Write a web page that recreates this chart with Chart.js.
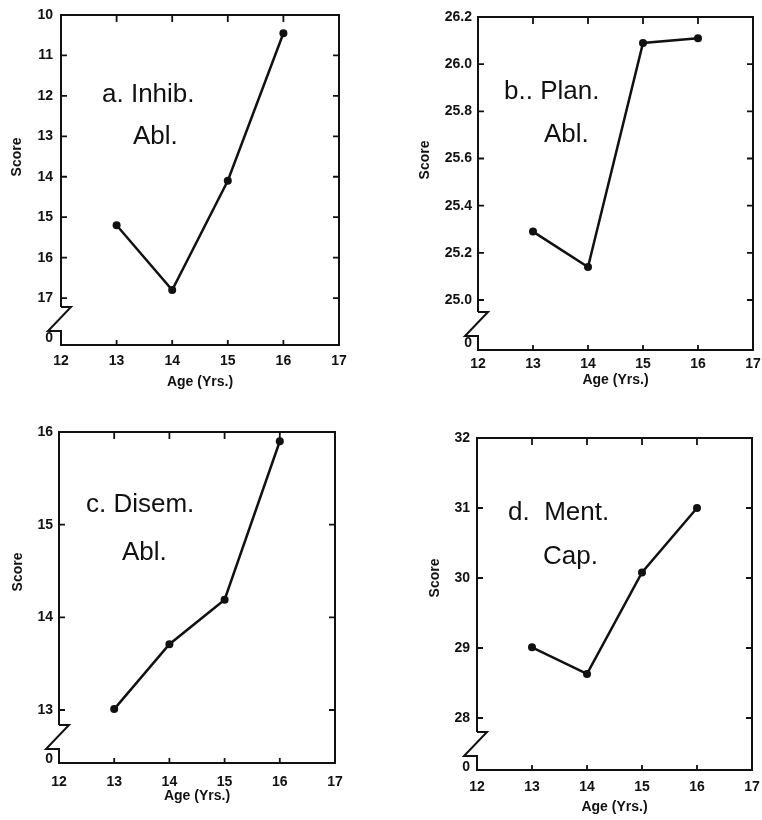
<!DOCTYPE html>
<html>
<head>
<meta charset="utf-8">
<script src="https://cdn.jsdelivr.net/npm/chart.js@4/dist/chart.umd.min.js"></script>
<style>
  html, body { margin: 0; padding: 0; background: #fff; }
  #wrap { position: relative; width: 762px; height: 820px; }
  .pane { position: absolute; }
</style>
</head>
<body>
<div id="wrap">
  <div class="pane" style="left:0;top:0;width:381px;height:400px"><canvas id="cA"></canvas></div>
  <div class="pane" style="left:381px;top:0;width:381px;height:400px"><canvas id="cB"></canvas></div>
  <div class="pane" style="left:0;top:400px;width:381px;height:420px"><canvas id="cC"></canvas></div>
  <div class="pane" style="left:381px;top:400px;width:381px;height:420px"><canvas id="cD"></canvas></div>
</div>
<script>
// Idade (anos) e escores médios
const ages = [13, 14, 15, 16];
const inhibScores = [15.2, 16.8, 14.1, 10.45];
const planScores  = [25.29, 25.14, 26.09, 26.11];
const disemScores = [13.01, 13.71, 14.19, 15.9];
const mentScores  = [29.01, 28.63, 30.08, 31.0];

const xTicks = [12, 13, 14, 15, 16, 17];
const inhibTicks = [10, 11, 12, 13, 14, 15, 16, 17];
const planTicks  = [25.0, 25.2, 25.4, 25.6, 25.8, 26.0, 26.2];
const disemTicks = [13, 14, 15, 16];
const mentTicks  = [28, 29, 30, 31, 32];

const FONT = '"Liberation Sans", Arial, sans-serif';

const panes = [
  { id: 'cA', data: inhibScores, ticks: inhibTicks, min: 10, max: 18.16, reverse: true, zeroAt: 18, dec: 0,
    title: ['a. Inhib.', 'Abl.'], tpos: [[102, 95], [133, 137]], score: [17, 157],
    yw: 61, xh: 55, pad: { top: 15, right: 42 }, lblPad: 8, xtPad: 8, atPad: 9 },
  { id: 'cB', data: planScores, ticks: planTicks, min: 24.788, max: 26.2, reverse: false, zeroAt: 24.818, dec: 1,
    title: ['b.. Plan.', 'Abl.'], tpos: [[123, 92], [163, 135]], score: [44, 160],
    yw: 97, xh: 50, pad: { top: 17, right: 9 }, lblPad: 6, xtPad: 6, atPad: 11 },
  { id: 'cC', data: disemScores, ticks: disemTicks, min: 12.428, max: 16, reverse: false, zeroAt: 12.47, dec: 0,
    title: ['c. Disem.', 'Abl.'], tpos: [[86, 105], [122, 153]], score: [18, 172],
    yw: 59, xh: 57, pad: { top: 32, right: 46 }, lblPad: 6, xtPad: 11, atPad: 15 },
  { id: 'cD', data: mentScores, ticks: mentTicks, min: 27.257, max: 32, reverse: false, zeroAt: 27.3, dec: 0,
    title: ['d.  Ment.', 'Cap.'], tpos: [[127, 113], [162, 157]], score: [54, 178],
    yw: 96, xh: 50, pad: { top: 38, right: 10 }, lblPad: 7, xtPad: 9, atPad: 4 }
];

// moldura com quebra do eixo, marcas internas e rótulos do painel
const framePlugin = {
  id: 'frame',
  afterDraw(chart, args, o) {
    const { ctx, chartArea: { left, right, top, bottom }, scales: { x, y } } = chart;
    ctx.save();
    ctx.strokeStyle = '#111';
    ctx.lineWidth = 2;
    const y1 = bottom - 38, y2 = bottom - 14;
    ctx.beginPath();
    ctx.moveTo(left, y1); ctx.lineTo(left, top); ctx.lineTo(right, top);
    ctx.lineTo(right, bottom); ctx.lineTo(left, bottom); ctx.lineTo(left, y2);
    ctx.lineTo(left - 13, y2); ctx.lineTo(left + 10, y1); ctx.lineTo(left, y1);
    ctx.stroke();

    ctx.lineWidth = 1.8;
    ctx.beginPath();
    y.ticks.forEach(t => {
      if (t.value === o.zeroAt) return;
      const py = y.getPixelForValue(t.value);
      ctx.moveTo(left, py); ctx.lineTo(left + 6, py);
      ctx.moveTo(right, py); ctx.lineTo(right - 6, py);
    });
    ages.forEach(a => {
      const px = x.getPixelForValue(a);
      ctx.moveTo(px, top); ctx.lineTo(px, top + 7);
      ctx.moveTo(px, bottom); ctx.lineTo(px, bottom - 5);
    });
    ctx.stroke();

    ctx.fillStyle = '#111';
    ctx.textBaseline = 'middle';
    ctx.textAlign = 'left';
    ctx.font = '26px ' + FONT;
    o.title.forEach((s, i) => ctx.fillText(s, o.tpos[i][0], o.tpos[i][1]));

    ctx.translate(o.score[0], o.score[1]);
    ctx.rotate(-Math.PI / 2);
    ctx.textAlign = 'center';
    ctx.font = 'bold 14px ' + FONT;
    ctx.fillText('Score', 0, 0);
    ctx.restore();
  }
};

panes.forEach(p => {
  new Chart(document.getElementById(p.id), {
    type: 'line',
    data: {
      datasets: [{
        data: ages.map((a, i) => ({ x: a, y: p.data[i] })),
        borderColor: '#111', backgroundColor: '#111',
        borderWidth: 2.5, pointRadius: 4, pointBorderWidth: 0, tension: 0
      }]
    },
    options: {
      responsive: true, maintainAspectRatio: false, animation: false,
      layout: { padding: { left: 0, bottom: 0, top: p.pad.top, right: p.pad.right } },
      plugins: { legend: { display: false }, tooltip: { enabled: false }, frame: p },
      scales: {
        x: {
          type: 'linear', min: 12, max: 17,
          grid: { display: false, drawTicks: false }, border: { display: false },
          afterBuildTicks: s => { s.ticks = xTicks.map(v => ({ value: v })); },
          afterFit: s => { s.height = p.xh; s.paddingLeft = 0; s.paddingRight = 0; },
          ticks: { color: '#111', padding: p.xtPad, font: { family: FONT, size: 14, weight: 'bold' } },
          title: { display: true, text: 'Age (Yrs.)', color: '#111',
                   padding: { top: 0, bottom: p.atPad }, font: { family: FONT, size: 14, weight: 'bold' } }
        },
        y: {
          type: 'linear', min: p.min, max: p.max, reverse: p.reverse,
          grid: { display: false, drawTicks: false }, border: { display: false },
          afterBuildTicks: s => { s.ticks = p.ticks.concat([p.zeroAt]).map(v => ({ value: v })); },
          afterFit: s => { s.width = p.yw; s.paddingTop = 0; s.paddingBottom = 0; },
          ticks: {
            color: '#111', padding: p.lblPad, font: { family: FONT, size: 14, weight: 'bold' },
            callback: v => v === p.zeroAt ? '0' : Number(v).toFixed(p.dec)
          }
        }
      }
    },
    plugins: [framePlugin]
  });
});
</script>
</body>
</html>
